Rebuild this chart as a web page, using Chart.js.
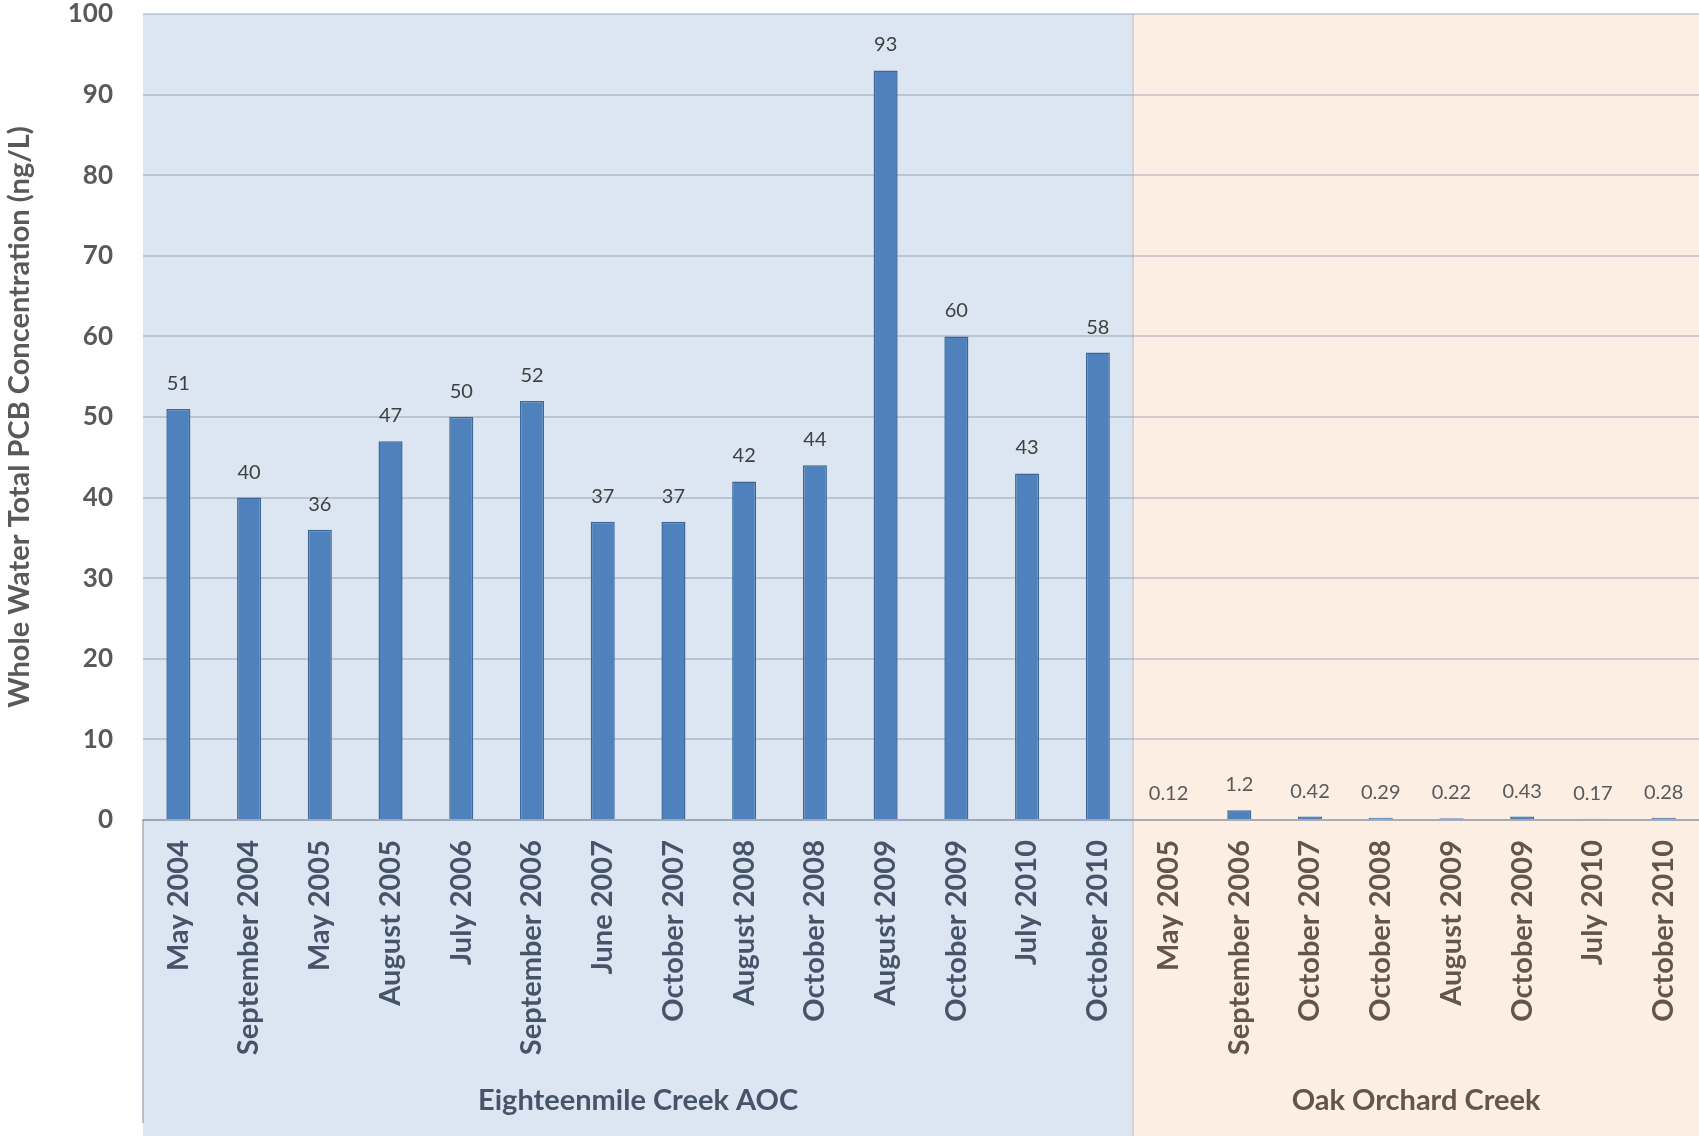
<!DOCTYPE html>
<html>
<head>
<meta charset="utf-8">
<title>Whole Water Total PCB Concentration</title>
<script src="https://cdn.jsdelivr.net/npm/chart.js@4.4.0/dist/chart.umd.min.js"></script>
<style>
  html, body { margin: 0; padding: 0; background: #fff; }
</style>
</head>
<body>
<canvas id="chart" width="1699" height="1136"></canvas>
<script>
// Sampling events per site
const eighteenmileDates = [
    'May 2004', 'September 2004', 'May 2005', 'August 2005', 'July 2006',
    'September 2006', 'June 2007', 'October 2007', 'August 2008', 'October 2008',
    'August 2009', 'October 2009', 'July 2010', 'October 2010'
];
const oakOrchardDates = [
    'May 2005', 'September 2006', 'October 2007', 'October 2008',
    'August 2009', 'October 2009', 'July 2010', 'October 2010'
];

// Whole water total PCB (ng/L)
const eighteenmileValues = [51, 40, 36, 47, 50, 52, 37, 37, 42, 44, 93, 60, 43, 58];
const oakOrchardValues = [0.12, 1.2, 0.42, 0.29, 0.22, 0.43, 0.17, 0.28];

const siteNames = ['Eighteenmile Creek AOC', 'Oak Orchard Creek'];
const yTicks = [0, 10, 20, 30, 40, 50, 60, 70, 80, 90, 100];

// Colours per site: panel fill, axis text, value label text
const siteFill = ['#DCE6F2', '#FDEEE4'];
const siteText = ['#46546A', '#63554B'];
const siteValueText = ['#404040', '#595959'];

const FONT = 'Lato, "Open Sans", sans-serif';

const labels = eighteenmileDates.concat(oakOrchardDates);
const values = eighteenmileValues.concat(oakOrchardValues);
const siteSizes = [eighteenmileDates.length, oakOrchardDates.length];

function siteOf(index) {
    return index < siteSizes[0] ? 0 : 1;
}

// Site panels, separators, site names and bar values
const sitePanels = {
    id: 'sitePanels',
    beforeDraw(chart) {
        const { ctx, chartArea, scales } = chart;
        const x = scales.x;
        const step = x.width / labels.length;
        let start = 0;
        ctx.save();
        siteSizes.forEach((n, s) => {
            const x0 = x.getPixelForValue(start) - step / 2;
            const x1 = x.getPixelForValue(start + n - 1) + step / 2;
            ctx.fillStyle = siteFill[s];
            ctx.fillRect(x0, chartArea.top, x1 - x0, chart.height - chartArea.top);
            start += n;
        });
        ctx.restore();
    },
    afterDraw(chart) {
        const { ctx, chartArea, scales } = chart;
        const x = scales.x;
        const step = x.width / labels.length;
        const lineBottom = chart.height - 13;

        ctx.save();
        let start = 0;
        const edges = [chartArea.left];
        siteSizes.forEach(n => {
            start += n;
            edges.push(x.getPixelForValue(start - 1) + step / 2);
        });

        // left edge of the category axis
        ctx.strokeStyle = 'rgba(120, 132, 150, 0.45)';
        ctx.lineWidth = 2;
        ctx.beginPath();
        ctx.moveTo(edges[0], chartArea.bottom);
        ctx.lineTo(edges[0], lineBottom);
        ctx.stroke();

        // faint divider between the two sites
        ctx.strokeStyle = 'rgba(170, 160, 155, 0.45)';
        ctx.lineWidth = 1.5;
        edges.slice(1, -1).forEach(px => {
            ctx.beginPath();
            ctx.moveTo(px, chartArea.top);
            ctx.lineTo(px, chart.height);
            ctx.stroke();
        });

        // site names
        ctx.font = 'bold 29px ' + FONT;
        ctx.textAlign = 'center';
        ctx.textBaseline = 'middle';
        siteNames.forEach((name, s) => {
            ctx.fillStyle = siteText[s];
            ctx.fillText(name, (edges[s] + edges[s + 1]) / 2, 1101);
        });

        // value labels above bars
        ctx.font = '20px ' + FONT;
        ctx.textBaseline = 'alphabetic';
        chart.getDatasetMeta(0).data.forEach((bar, i) => {
            ctx.fillStyle = siteValueText[siteOf(i)];
            ctx.fillText(String(values[i]), bar.x, bar.y - 19);
        });
        ctx.restore();
    }
};

const ctx = document.getElementById('chart').getContext('2d');

new Chart(ctx, {
    type: 'bar',
    data: {
        labels: labels,
        datasets: [{
            data: values,
            backgroundColor: '#4F81BD',
            borderColor: '#3D6797',
            borderWidth: 1.5,
            categoryPercentage: 1,
            barPercentage: 0.34
        }]
    },
    options: {
        responsive: false,
        animation: false,
        devicePixelRatio: 1,
        layout: { padding: { top: 14, right: 0, left: 0, bottom: 0 } },
        plugins: {
            legend: { display: false },
            tooltip: { enabled: false }
        },
        scales: {
            x: {
                grid: { display: false },
                border: { display: true, color: 'rgba(120, 132, 150, 0.45)', width: 2 },
                ticks: {
                    autoSkip: false,
                    maxRotation: 90,
                    minRotation: 90,
                    padding: 12,
                    font: { family: FONT, size: 29, weight: 'bold' },
                    color: c => siteText[siteOf(c.index)]
                },
                afterFit(scale) {
                    scale.height = 316;
                    scale.paddingLeft = 0;
                    scale.paddingRight = 0;
                }
            },
            y: {
                min: 0,
                max: 100,
                afterBuildTicks(scale) {
                    scale.ticks = yTicks.map(v => ({ value: v }));
                },
                grid: {
                    color: 'rgba(110, 122, 140, 0.3)',
                    lineWidth: 2,
                    drawTicks: false
                },
                border: { display: false },
                ticks: {
                    padding: 30,
                    font: { family: FONT, size: 26, weight: 'bold' },
                    color: '#595959'
                },
                title: {
                    display: true,
                    text: 'Whole Water Total PCB Concentration (ng/L)',
                    font: { family: FONT, size: 29, weight: 'bold' },
                    color: '#595959',
                    padding: { top: 2, bottom: 0 }
                },
                afterFit(scale) {
                    scale.width = 143;
                    scale.paddingTop = 0;
                    scale.paddingBottom = 0;
                }
            }
        }
    },
    plugins: [sitePanels]
});
</script>
</body>
</html>
